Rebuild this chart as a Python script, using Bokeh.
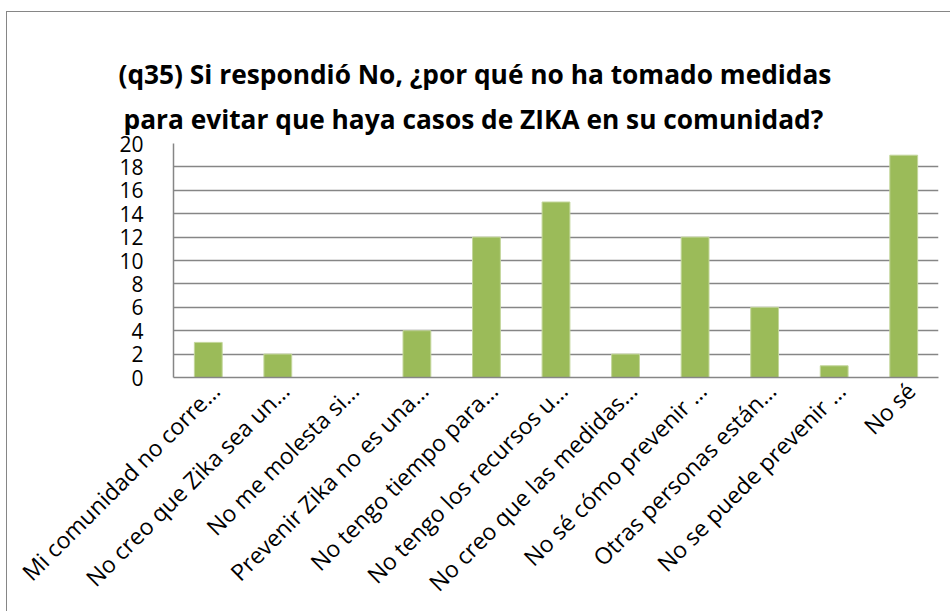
import math
from bokeh.plotting import figure
from bokeh.models import Title, FixedTicker, Range1d
from bokeh.embed import file_html
from bokeh.resources import INLINE

categories = [
    "Mi comunidad no corre…",
    "No creo que Zika sea un…",
    "No me molesta si…",
    "Prevenir Zika no es una…",
    "No tengo tiempo para…",
    "No tengo los recursos u…",
    "No creo que las medidas…",
    "No sé cómo prevenir …",
    "Otras personas están…",
    "No se puede prevenir …",
    "No sé",
]
values = [3, 2, 0, 4, 12, 15, 2, 12, 6, 1, 19]
y_ticks = list(range(0, 21, 2))
title_lines = [
    "(q35) Si respondió No, ¿por qué no ha tomado medidas",
    "para evitar que haya casos de ZIKA en su comunidad?",
]

W, H = 944, 600
GRID = "#868686"
FONT = "Open Sans"
n = len(categories)
SLOT = 100  # data units per category slot

p = figure(
    x_range=Range1d(0, SLOT * n),
    y_range=Range1d(0, 20),
    width=W, height=H,
    output_backend="svg", toolbar_location=None,
    min_border_left=166, min_border_right=13,
    min_border_top=131, min_border_bottom=235,
    styles={
        "margin-left": "6px", "margin-top": "11px",
        "border-left": "1.5px solid #868686",
        "border-top": "1.5px solid #868686",
    },
)
bar_x = [SLOT * i + SLOT / 2 for i in range(n)]
p.vbar(x=bar_x, top=values, width=0.4 * SLOT,
       fill_color="#9BBB59", line_color="#c3d69b", line_width=1)

p.outline_line_color = None
p.background_fill_color = "white"
p.border_fill_color = "white"

p.xgrid.grid_line_color = None
p.ygrid.grid_line_color = GRID
p.ygrid.grid_line_width = 1.5
p.yaxis.ticker = FixedTicker(ticks=y_ticks)

for ax in (p.xaxis, p.yaxis):
    ax.axis_line_color = GRID
    ax.axis_line_width = 1.5
    ax.major_tick_line_color = None
    ax.minor_tick_line_color = None
    ax.major_label_text_font = FONT
    ax.major_label_text_color = "black"

p.yaxis.major_label_text_font_size = "21px"
p.yaxis.major_label_standoff = 24

# Category labels sit slightly right of each slot centre, as in the reference
lab_ticks = [SLOT * i + 60 for i in range(n)]
overrides = {}
for t, c in zip(lab_ticks, categories):
    overrides[t] = c
    overrides[str(t)] = c
p.xaxis.ticker = FixedTicker(ticks=lab_ticks)
p.xaxis.major_label_overrides = overrides
p.xaxis.major_label_orientation = math.pi / 4
p.xaxis.major_label_standoff = 3
p.xaxis.major_label_text_font_size = "23px"

# Title: two lines centred on the whole chart (first added sits nearest the frame)
for line, off, so in ((title_lines[1], -50, 14), (title_lines[0], -55, 0)):
    p.add_layout(Title(
        text=line, align="left", offset=off, standoff=so,
        text_font=FONT, text_font_style="bold", text_font_size="26.3px",
        text_color="black", text_line_height=0.8,
    ), "above")

open("out.html", "w").write(file_html(p, INLINE))
